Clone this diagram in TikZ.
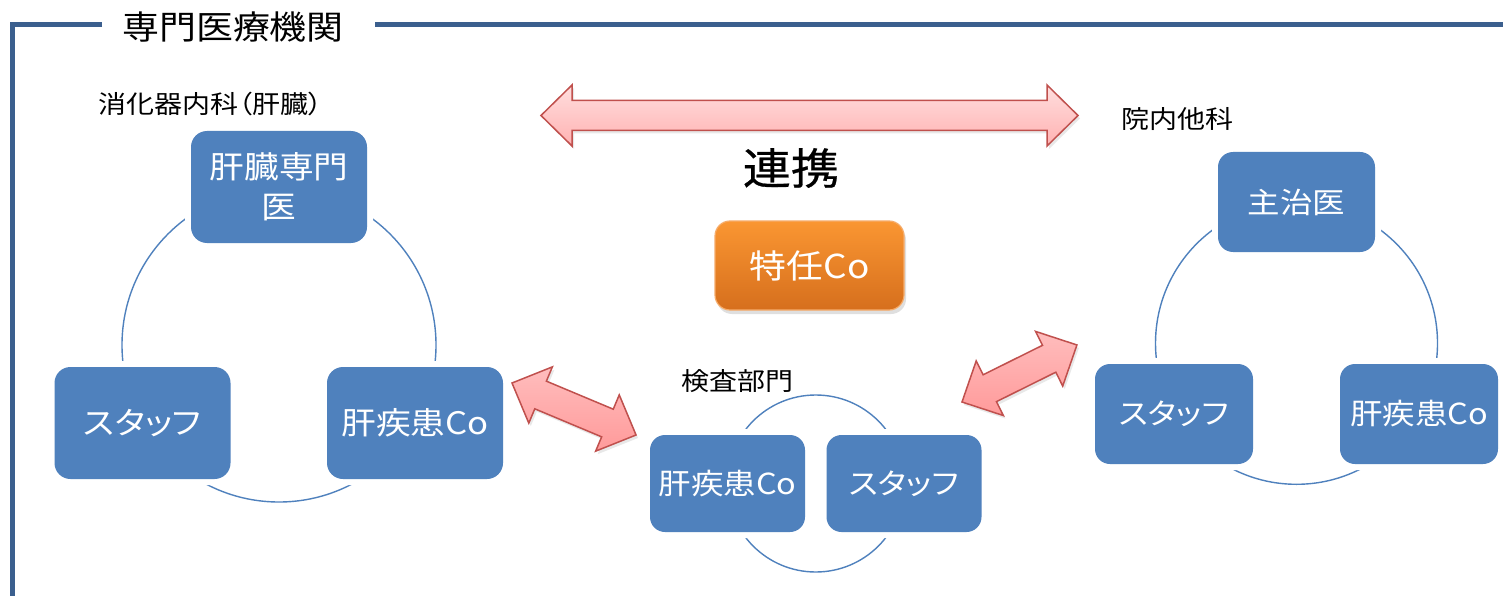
\documentclass[tikz,border=0pt]{standalone}
\usepackage{fontspec}
\setmainfont{Noto Sans CJK JP}[FakeStretch=1.12,RawFeature=+palt]
\newfontfamily\jpmed{Noto Sans CJK JP}[FakeStretch=1.12,FakeBold=0.6]
\usetikzlibrary{shadows}
\definecolor{boxblue}{HTML}{4F81BD}
\definecolor{framec}{HTML}{3B5F8E}
\definecolor{arrowline}{HTML}{C0504D}
\definecolor{pinktop}{HTML}{FFDEDE}
\definecolor{pinkbot}{HTML}{FFB2B2}
\definecolor{pinktopb}{HTML}{FFBDBD}
\definecolor{pinkbotb}{HTML}{FF9A9A}
\definecolor{orangetop}{HTML}{FA9632}
\definecolor{orangebot}{HTML}{D66F1D}
\definecolor{orangeedge}{HTML}{F6AC6A}
\newcommand{\fsz}[2]{\fontsize{#1pt}{#2pt}\selectfont}
\newcommand{\dblarrow}[4]{%
  \begin{scope}[shift={(#1)}, rotate=#2]
    \path[arrowstyle, #4] (0,0) -- (31,30.5) -- (31,15) -- (#3-31,15) -- (#3-31,30.5)
      -- (#3,0) -- (#3-31,-30.5) -- (#3-31,-15) -- (31,-15) -- (31,-30.5) -- cycle;
  \end{scope}}
\tikzset{
  every node/.style={inner sep=0pt, outer sep=0pt},
  bluebox/.style={fill=boxblue, rounded corners=16pt, text=white, align=center,
    preaction={draw=white, line width=12pt}},
  circ/.style={draw=boxblue, line width=1.4pt},
  framel/.style={draw=framec, line width=5pt},
  lbl/.style={text=black, font=\fsz{25}{30}},
  arrowstyle/.style={draw=arrowline, line width=1.5pt, top color=pinktop, bottom color=pinkbot,
    line join=miter, drop shadow={shadow xshift=2pt, shadow yshift=-3pt, opacity=0.18}},
  smallarrow/.style={top color=pinktopb, bottom color=pinkbotb},
  orangebox/.style={rounded corners=15pt, top color=orangetop, bottom color=orangebot,
    draw=orangeedge, line width=1.2pt, text=white,
    drop shadow={shadow xshift=2pt, shadow yshift=-4pt, opacity=0.25}}
}
\begin{document}
\begin{tikzpicture}[x=1pt, y=-1pt]
\useasboundingbox (0,0) rectangle (1503,596);
\fill[white] (0,0) rectangle (1503,596);

% frame
\node[text=black, font=\fsz{33}{40}] (title) at (233,27) {専門医療機関};
\coordinate (fa) at (102,24.5);
\coordinate (fc) at (12,24.5);
\coordinate (fd) at (12,600);
\coordinate (fe) at (375,24.5);
\coordinate (ff) at (1503,24.5);
\draw[framel] (fa) -- (fc) -- (fd);
\draw[framel] (fe) -- (ff);

% circles
\coordinate (cL) at (279,345);
\coordinate (cM) at (815.75,483.5);
\coordinate (cR) at (1296.5,343.3);
\draw[circ] (cL) circle[radius=157];
\draw[circ] (cM) circle[radius=88.5];
\draw[circ] (cR) circle[radius=141];

% left group
\node[lbl] (lblL) at (210,104.5) {消化器内科（肝臓）};
\node[bluebox, minimum width=176pt, minimum height=112pt, font=\fsz{31}{40}] (L1) at (279,187) {肝臓専門\\医};
\node[bluebox, minimum width=176pt, minimum height=112pt, font=\fsz{31}{40}] (L2) at (142.5,423) {スタッフ};
\node[bluebox, minimum width=176pt, minimum height=112pt, font=\fsz{31}{40}] (L3) at (415,423) {肝疾患Co};

% middle group
\node[lbl] (lblM) at (737,381) {検査部門};
\node[bluebox, rounded corners=15pt, minimum width=155pt, minimum height=97pt, font=\fsz{29}{36}] (M1) at (727.5,483.5) {肝疾患Co};
\node[bluebox, rounded corners=15pt, minimum width=155pt, minimum height=97pt, font=\fsz{29}{36}] (M2) at (904,483.5) {スタッフ};

% right group
\node[lbl] (lblR) at (1177.5,119.5) {院内他科};
\node[bluebox, rounded corners=15pt, minimum width=157pt, minimum height=100pt, font=\fsz{29}{36}] (R1) at (1296.5,202) {主治医};
\node[bluebox, rounded corners=15pt, minimum width=158pt, minimum height=100pt, font=\fsz{29}{36}] (R2) at (1174,414) {スタッフ};
\node[bluebox, rounded corners=15pt, minimum width=158pt, minimum height=100pt, font=\fsz{29}{36}] (R3) at (1419,414) {肝疾患Co};

% center
\node[text=black, font=\jpmed\fsz{43}{50}] (renkei) at (791,168) {連携};
\node[orangebox, minimum width=189pt, minimum height=89pt, font=\fsz{33}{40}] (tokunin) at (809.5,265.5) {特任Co};

% arrows
\coordinate (aB) at (541,115.5);
\coordinate (aL) at (512,383);
\coordinate (aR) at (962,402);
\dblarrow{aB}{0}{537}{}
\dblarrow{aL}{-22.75}{134.5}{smallarrow}
\dblarrow{aR}{26.4}{128.3}{smallarrow}
\end{tikzpicture}
\end{document}
